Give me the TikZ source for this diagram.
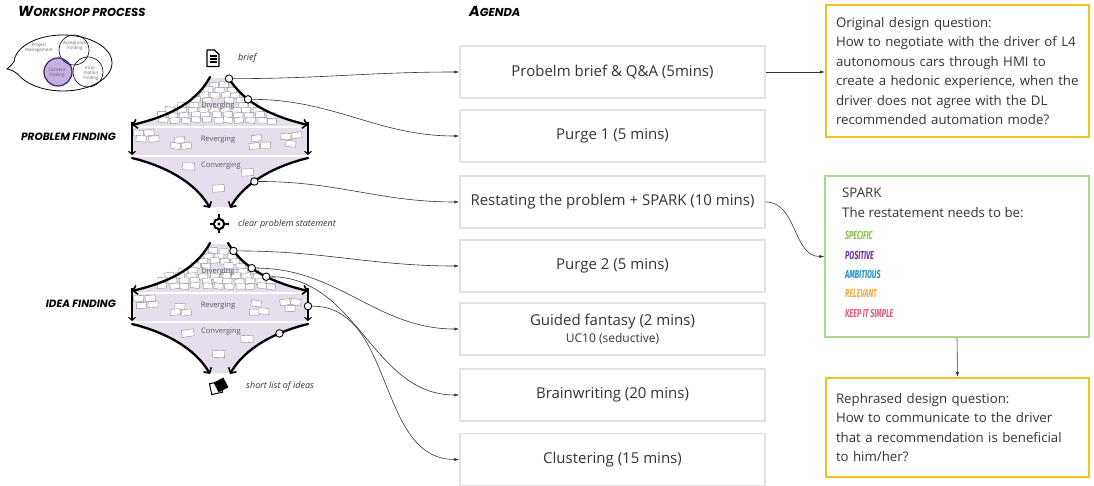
\documentclass[tikz,border=0pt]{standalone}
\usepackage{fontspec}
\setmainfont{Open Sans}
\newfontfamily\handfont{Poppins}
\newfontfamily\sparkfont{Fira Sans}
\usetikzlibrary{arrows.meta}

\definecolor{ink}{HTML}{333333}
\definecolor{boxgray}{HTML}{E2E2E2}
\definecolor{qyellow}{HTML}{F5C21B}
\definecolor{sparkgreen}{HTML}{A9D98B}
\definecolor{funnelfill}{HTML}{E6DEED}
\definecolor{vennfill}{HTML}{C6B0DF}
\definecolor{vennedge}{HTML}{4A2D70}
\definecolor{cspec}{HTML}{86BE4C}
\definecolor{cpos}{HTML}{6F2E9E}
\definecolor{camb}{HTML}{1E8FC8}
\definecolor{crel}{HTML}{F4AA3A}
\definecolor{ckeep}{HTML}{E0587A}

% scattered sticky notes: width, height, list of centres
\newcommand\stickynotes[3]{%
  \foreach \nx/\ny in {#3}{%
    \pgfmathsetmacro\nr{rand*9}%
    \pgfmathsetmacro\jx{\nx+rand*1.2}%
    \pgfmathsetmacro\jy{\ny+rand*0.8}%
    \draw[note, rotate around={\nr:(\jx,\jy)}]
      (\jx-#1/2,\jy-#2/2) rectangle (\jx+#1/2,\jy+#2/2);
  }}

% one diverging / reverging / converging funnel; #1 name prefix, #2 vertical offset
\newcommand\funnel[2]{%
\begin{scope}[shift={(0,#2)}]
  \fill[funnelfill] (210,78) .. controls (195,105) and (165,117) .. (133,125)
    -- (133,157) .. controls (165,165) and (195,182) .. (211,207)
    -- (229,207) .. controls (245,182) and (275,165) .. (307,157)
    -- (307,125) .. controls (275,117) and (245,105) .. (228,78) -- cycle;
  \draw[white, line width=1.6] (133,127) -- (307,127) (133,156) -- (307,156);
  \stickynotes{9}{5.6}{214/85,224/85,
    209/90,220/90,231/90,
    203/95,214/95,225/95,236/95,
    196/100,207/100,229/100,240/100,
    183/105,193/105,243/105,253/105,
    170/110,181/110,192/110,203/110,214/110,225/110,236/110,247/110,258/110,
    162/115,173/115,184/115,195/115,206/115,217/115,228/115,239/115,250/115,261/115,272/115,
    163/120,174/120,185/120,196/120,207/120,218/120,229/120,240/120,251/120,262/120,272/121}
  \stickynotes{10}{6}{139/133,150/132,142/139,153/139,
    180/140,175/146,186/146,
    257/138,254/146,265/145,
    285/136,297/136,290/143}
  \stickynotes{12}{7}{188/167,247/173,218/188}
  \node[stage] (#1div) at (218,106) {Diverging};
  \node[stage] (#1rev) at (218,140) {Reverging};
  \node[stage] (#1con) at (221,166) {Converging};
  \draw[flow] (210,77) .. controls (195,105) and (165,117) .. (132,125);
  \draw[flow] (228,77) .. controls (245,105) and (275,117) ..
    coordinate[pos=0.02] (#1d1) coordinate[pos=0.1] (#1d2)
    coordinate[pos=0.32] (#1d3) coordinate[pos=0.37] (#1d4)
    coordinate[pos=0.55] (#1d5) (308,125);
  \draw[revflow] (132,122) -- (132,155);
  \draw[revflow] (308,122) -- coordinate[pos=0.55] (#1rv) (308,155);
  \draw[flow] (132,158) .. controls (165,166) and (195,182) .. (210,208);
  \draw[flow] (308,158) .. controls (275,166) and (245,182) ..
    coordinate[pos=0.3] (#1c1) coordinate[pos=0.6] (#1c2) (230,208);
\end{scope}}

\begin{document}
\begin{tikzpicture}[x=1pt, y=-1pt,
  agenda/.style={draw=boxgray, line width=1.5, minimum width=305, minimum height=52,
    inner sep=0, text=ink, align=center, font=\fontsize{15}{19}\selectfont},
  question/.style={draw=qyellow, line width=2, text width=243, inner xsep=10,
    inner ysep=0, minimum width=263, align=left, text=ink,
    font=\fontsize{13.25}{19.5}\selectfont},
  sparktext/.style={anchor=base west, inner sep=0, text=ink, font=\fontsize{13.25}{16}\selectfont},
  sparkword/.style={anchor=base west, inner sep=0,
    font=\sparkfont\bfseries\itshape\fontsize{11.5}{10}\selectfont},
  title/.style={anchor=base west, inner sep=0, text=black,
    font=\handfont\bfseries\itshape\fontsize{10.5}{10}\selectfont},
  caption/.style={anchor=west, inner sep=0, text=ink, font=\itshape\fontsize{9}{10}\selectfont},
  stage/.style={inner sep=0, text=black!65, font=\fontsize{7.5}{8}\selectfont},
  venntext/.style={inner sep=0, align=center, text=black!60, font=\fontsize{4.5}{5}\selectfont},
  note/.style={draw=black!45, fill=white, line width=0.4},
  flow/.style={line width=2.3, line cap=round, -{Straight Barb[length=4pt,width=9pt,line width=1.6pt]}},
  revflow/.style={line width=1.2, -{Straight Barb[length=3pt,width=7pt,line width=1.1pt]}},
  dot/.style={circle, draw=black, fill=white, line width=0.9, minimum size=7.5, inner sep=0},
  conn/.style={draw=ink, line width=0.6, -{Latex[length=5pt,width=3.2pt]}}]
\useasboundingbox (0,0) rectangle (1094,486);

% ---------- headings ----------
\node[title, font=\handfont\bfseries\itshape\fontsize{11.5}{10}\selectfont] (wtitle) at (18,17)
  {{\fontsize{14.5}{12}\selectfont W}ORKSHOP PROCESS};
\node[title, font=\handfont\bfseries\itshape\fontsize{11.5}{10}\selectfont] (atitle) at (469,17)
  {{\fontsize{14.5}{12}\selectfont A}GENDA};
\node[title, anchor=east] (ptitle) at (116,137) {PROBLEM FINDING};
\node[title, anchor=east] (ititle) at (116,304) {IDEA FINDING};

% ---------- speech bubble with Venn diagram ----------
\draw[line width=0.8] (63,63) ellipse [x radius=49, y radius=28];
\fill[white] (12,61.6) rectangle (21,75.6);
\draw[line width=0.8] (14.1,61.5) .. controls (12,64) and (10,67) .. (7,69)
  .. controls (12,70) and (16,72) .. (19.6,76);
\fill[vennfill] (58,72) circle [radius=14];
\draw[line width=0.6] (74,50) circle [radius=15];
\draw[line width=0.6] (88,72) circle [radius=15];
\draw[vennedge, line width=1.3] (58,72) circle [radius=14];
\node[venntext] (vpm) at (39,48) {Project\\Management};
\node[venntext] (vaf) at (75,46) {Acceptance\\Finding};
\node[venntext] (vcf) at (57,73) {Content\\Finding};
\node[venntext] (vif) at (91,73) {Infor-\\mation\\Finding};

% ---------- icons ----------
\draw[line width=1.3, line join=round] (207,50) -- (214.5,50) -- (219,54.5) -- (219,66.5) -- (207,66.5) -- cycle;
\draw[line width=1.2] (209.5,56) -- (216.5,56) (209.5,59) -- (216.5,59) (209.5,62) -- (216.5,62);
\node[caption] (brief) at (238,58) {brief};

\draw[line width=2] (219,224) circle [radius=5.2];
\fill (219,224) circle [radius=1.7];
\draw[line width=1.8] (219,214.5) -- (219,218) (219,230) -- (219,233.5)
  (209.5,224) -- (213,224) (225,224) -- (228.5,224);
\node[caption] (clear) at (238,224) {clear problem statement};

\draw[line width=1, fill=white, rotate around={12:(216,388)}] (210.5,382.5) rectangle (221.5,393.5);
\fill[rotate around={28:(221,385)}] (215.5,379.5) rectangle (226.5,390.5);
\node[caption] (slist) at (246,386) {short list of ideas};

% ---------- funnels ----------
\pgfmathsetseed{11}
\funnel{p}{0}
\funnel{i}{166}

% ---------- agenda ----------
\node[agenda] (a1) at (612.5,72) {Probelm brief \& Q\&A (5mins)};
\node[agenda] (a2) at (612.5,136) {Purge 1 (5 mins)};
\node[agenda] (a3) at (612.5,202) {Restating the problem + SPARK (10 mins)};
\node[agenda] (a4) at (612.5,266) {Purge 2 (5 mins)};
\node[agenda] (a5) at (612.5,329) {Guided fantasy (2 mins)\\[-2pt]{\fontsize{12}{14}\selectfont UC10 (seductive)}};
\node[agenda] (a6) at (612.5,395) {Brainwriting (20 mins)};
\node[agenda] (a7) at (612.5,459.5) {Clustering (15 mins)};

% ---------- design questions and SPARK ----------
\node[question, minimum height=132] (q1) at (957.5,71) {Original design question:\\
How to negotiate with the driver of L4\\
autonomous cars through HMI to\\
create a hedonic experience, when the\\
driver does not agree with the DL\\
recommended automation mode?};
\node[draw=sparkgreen, line width=1.5, minimum width=264, minimum height=161, inner sep=0]
  (spark) at (957,256.5) {};
\node[sparktext] (sp1) at (842,198) {SPARK};
\node[sparktext] (sp2) at (842,218) {The restatement needs to be:};
\node[sparkword, text=cspec] (w1) at (845,239.5) {\scalebox{0.62}[1]{SPECIFIC}};
\node[sparkword, text=cpos] (w2) at (845,259) {\scalebox{0.62}[1]{POSITIVE}};
\node[sparkword, text=camb] (w3) at (845,278) {\scalebox{0.62}[1]{AMBITIOUS}};
\node[sparkword, text=crel] (w4) at (845,297.5) {\scalebox{0.62}[1]{RELEVANT}};
\node[sparkword, text=ckeep] (w5) at (845,317) {\scalebox{0.62}[1]{KEEP IT SIMPLE}};
\node[question, minimum height=99] (q2) at (957.5,427.5) {Rephrased design question:\\
How to communicate to the driver\\
that a recommendation is beneficial\\
to him/her?};

% ---------- markers on the funnels ----------
\node[dot] (m1) at (pd1) {};
\node[dot] (m2) at (pd3) {};
\node[dot] (m3) at (pc2) {};
\node[dot] (m4) at (id2) {};
\node[dot] (m5) at (id4) {};
\node[dot] (m6) at (id5) {};
\node[dot] (m7) at (irv) {};
\node[dot] (m8) at (ic1) {};

% ---------- connectors ----------
\draw[conn] (m1.east) to[out=0,in=180] (a1.west);
\draw[conn] (m2.east) to[out=0,in=180] (a2.west);
\draw[conn] (m3.east) to[out=0,in=180] (a3.west);
\draw[conn] (m4.east) to[out=0,in=180] (a4.west);
\draw[conn] (m5.east) to[out=0,in=180] (a5.west);
\draw[conn] (m6.east) to[out=0,in=180] (a6.west);
\draw[conn] (m7.east) to[out=0,in=180] (a7.west);
\draw[conn] (a1.east) -- (q1.west |- a1.east);
\draw[conn] (a3.east) to[out=0,in=180] (spark.west);
\draw[conn] (spark.south) -- (q2.north);
\end{tikzpicture}
\end{document}
